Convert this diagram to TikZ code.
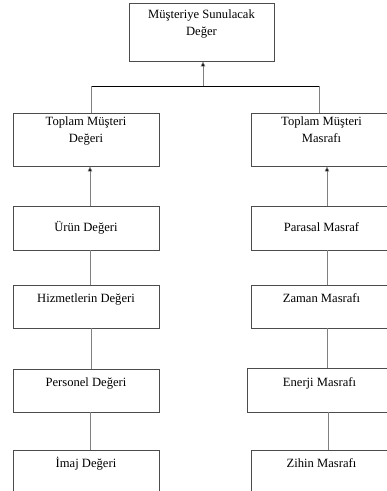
\documentclass[tikz,border=0pt]{standalone}
\usepackage{fontspec}
\setmainfont{Liberation Serif}
\newfontfamily\kutufont{Liberation Serif}
\usetikzlibrary{positioning,arrows.meta}

\tikzset{
	kutu/.style={draw=black!70, line width=0.9pt, inner sep=0pt, align=center,
		text height=9pt, text depth=3pt, font=\kutufont\fontsize{12.6}{17}\selectfont},
	ustyazi/.style={text depth=17pt},
	bag/.style={draw=black!50, line width=0.7pt},
	ok/.style={bag, -{Triangle[length=5pt,width=4.5pt,fill=black]}}
}

\begin{document}
\begin{tikzpicture}[x=1pt,y=-1pt]
				\useasboundingbox (0,0) rectangle (387,491);
				\clip (0,0) rectangle (387,491);
				
				\node[kutu, minimum width=145pt, minimum height=58pt] (deger) at (201.5,32) {Müşteriye Sunulacak\\ Değer};
				
				\node[kutu, minimum width=146pt, minimum height=53pt] (tmd) at (86,139.5) {Toplam Müşteri\\ Değeri};
				\node[kutu, minimum width=141pt, minimum height=53pt] (tmm) at (321.5,139.5) {Toplam Müşteri\\ Masrafı};
				
				\node[kutu, minimum width=146pt, minimum height=44pt] (urun) at (86,228) {Ürün Değeri};
				\node[kutu, ustyazi, minimum width=146pt, minimum height=43pt] (hizmet) at (86,306.5) {Hizmetlerin Değeri};
				\node[kutu, ustyazi, minimum width=146pt, minimum height=43pt] (personel) at (86,390.5) {Personel Değeri};
				\node[kutu, ustyazi, minimum width=146pt, minimum height=43pt] (imaj) at (86,471.5) {İmaj Değeri};
				
				\node[kutu, minimum width=141pt, minimum height=44pt] (parasal) at (321.5,228) {Parasal Masraf};
				\node[kutu, ustyazi, minimum width=141pt, minimum height=43pt] (zaman) at (321.5,306.5) {Zaman Masrafı};
				\node[kutu, ustyazi, minimum width=145pt, minimum height=44pt] (enerji) at (319.5,390) {Enerji Masrafı};
				\node[kutu, ustyazi, minimum width=141pt, minimum height=43pt] (zihin) at (321.5,471.5) {Zihin Masrafı};
				
				% ust baglanti
				\coordinate (sol) at (91,86);
				\coordinate (sag) at (319,86);
				\coordinate (orta) at (203,86);
				\draw[line width=0.8pt] (sol) -- (sag);
				\draw[bag] (sol) -- (sol |- tmd.north);
				\draw[bag] (sag) -- (sag |- tmm.north);
				\draw[ok] (orta) -- (orta |- deger.south);
				
				% sol sutun
				\draw[ok] ([xshift=4pt]urun.north) -- ([xshift=4pt]tmd.south);
				\draw[bag] ([xshift=4pt]urun.south) -- ([xshift=4pt]hizmet.north);
				\draw[bag] ([xshift=5pt]hizmet.south) -- ([xshift=5pt]personel.north);
				\draw[bag] ([xshift=4pt]personel.south) -- ([xshift=4pt]imaj.north);
				
				% sag sutun
				\draw[ok] ([xshift=5.5pt]parasal.north) -- ([xshift=5.5pt]tmm.south);
				\draw[bag] ([xshift=5.5pt]parasal.south) -- ([xshift=5.5pt]zaman.north);
				\draw[bag] ([xshift=5.5pt]zaman.south) -- ([xshift=5.5pt]zaman.south |- enerji.north);
				\draw[bag] ([xshift=8.5pt]enerji.south) -- ([xshift=8.5pt]enerji.south |- zihin.north);
			\end{tikzpicture}
\end{document}
